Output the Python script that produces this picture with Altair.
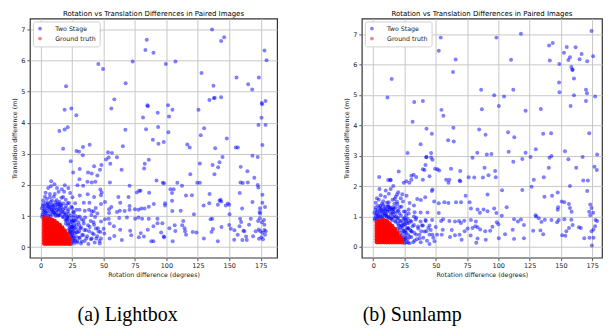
import altair as alt
import pandas as pd

TITLE = "Rotation vs Translation Differences in Paired Images"
X_TITLE = "Rotation difference (degrees)"
Y_TITLE = "Translation difference (m)"
series_names = ["Two Stage", "Ground truth"]
series_colors = ["#0000ff", "#ff0000"]
captions = ["(a) Lightbox", "(b) Sunlamp"]
x_ticks = [0, 25, 50, 75, 100, 125, 150, 175]
y_ticks = [0, 1, 2, 3, 4, 5, 6, 7]

# ---------------- Lightbox (left) ----------------
left_blue = [
    (46.4, 6.95), (84.4, 6.67), (83.3, 6.34), (89.7, 6.25), (136.3, 7.0), (145.9, 6.75), (143.5, 6.63),
    (178.0, 6.32), (179.6, 6.01), (45.9, 5.89), (49.6, 5.73), (73.2, 5.97), (99.5, 5.89), (107.2, 5.97),
    (127.9, 5.6), (155.7, 5.45), (173.5, 5.45), (165.0, 5.24), (168.2, 5.07), (137.4, 5.19), (20.2, 5.17),
    (67.6, 5.27), (58.6, 4.75), (56.2, 4.46), (84.9, 4.56), (85.2, 4.53), (81.4, 4.17), (93.1, 4.32),
    (101.3, 4.56), (104.8, 4.42), (102.1, 4.2), (125.5, 4.42), (134.2, 4.73), (137.7, 4.79), (138.4, 4.8),
    (143.5, 4.82), (176.1, 4.59), (175.8, 4.63), (178.8, 4.7), (175.6, 4.16), (173.2, 3.93), (178.8, 3.93),
    (19.1, 4.42), (24.4, 4.46), (28.4, 4.24), (14.9, 3.73), (19.1, 3.78), (21.5, 3.85), (67.4, 3.77),
    (83.8, 3.79), (93.4, 3.86), (101.6, 3.69), (130.0, 3.82), (127.3, 3.6), (148.0, 3.49),
    (17.9, 3.16), (28.5, 3.09), (30.6, 3.07), (33.7, 3.22), (39.0, 3.29), (89.2, 3.45), (93.7, 3.32),
    (97.9, 3.38), (116.6, 3.3), (118.5, 3.2), (65.4, 3.24), (53.6, 3.05), (56.7, 3.03), (138.8, 3.18),
    (155.2, 3.2), (156.8, 3.2), (176.3, 3.28),
    (33.5, 2.95), (23.9, 2.76), (54.1, 2.88), (60.7, 2.89), (52.0, 2.82), (55.4, 2.68), (48.3, 2.64),
    (42.5, 2.6), (47.2, 2.49), (31.1, 2.51), (64.4, 2.49), (82.8, 2.68), (86.0, 2.81), (82.3, 2.53),
    (126.6, 2.69), (136.7, 2.64), (142.2, 2.73), (144.6, 2.9), (141.1, 2.57), (138.2, 2.34), (119.0, 2.34),
    (159.1, 2.58), (164.4, 2.44), (168.4, 2.94), (172.6, 2.9),
    (40.6, 2.37), (45.1, 2.3), (37.7, 2.4), (25.9, 2.4), (40.6, 2.08), (37.2, 2.1), (30.9, 2.18),
    (43.5, 2.1), (29.3, 1.99), (33.8, 1.97), (19.2, 1.99), (16.9, 1.86), (8.4, 2.12), (8.2, 1.96),
    (55.1, 2.08), (70.7, 1.97), (76.5, 1.76), (79.4, 1.81), (92.1, 2.14), (97.1, 2.07), (98.1, 2.05),
    (108.7, 2.07), (112.4, 1.97), (124.5, 2.07), (126.6, 2.07), (103.2, 1.86), (105.8, 1.86), (104.5, 1.74),
    (115.6, 1.66), (120.3, 1.67), (134.3, 1.71), (143.6, 1.47), (143.0, 1.52), (149.9, 1.36), (148.8, 1.4),
    (158.9, 2.08), (160.7, 2.06), (164.7, 2.08), (172.6, 2.0), (173.1, 1.92), (169.9, 2.23), (158.3, 1.74),
    (176.3, 1.68), (176.3, 1.43), (178.4, 1.29), (168.4, 1.45), (174.4, 1.25), (174.2, 1.13), (174.4, 1.08),
    (63.3, 1.43), (70.7, 1.32), (75.0, 1.22), (77.8, 1.2), (80.0, 1.24), (82.6, 1.24), (86.0, 1.3),
    (90.0, 1.39), (98.9, 1.41), (98.9, 1.34), (104.5, 1.49), (104.7, 1.16), (111.4, 1.17), (121.9, 1.06),
    (129.6, 1.34), (134.1, 1.41), (136.4, 0.91), (140.9, 1.36), (142.2, 1.49), (147.2, 1.34), (150.2, 1.06),
    (160.2, 1.24), (61.8, 1.61), (69.9, 1.61), (78.4, 1.81), (86.3, 1.75), (56.2, 1.29), (51.2, 1.45),
    (54.4, 1.22), (54.4, 1.1), (60.7, 1.13), (63.0, 1.17), (66.8, 1.16), (70.7, 1.2), (43.8, 1.26),
    (40.6, 1.15), (48.0, 1.39), (48.0, 1.67), (48.5, 1.76), (47.5, 1.85), (37.4, 1.7), (42.5, 1.61),
    (31.1, 1.66), (25.3, 1.6), (23.5, 1.74), (18.7, 1.78), (17.9, 1.61), (14.3, 1.78), (11.3, 1.71),
    (7.4, 1.71), (3.4, 1.62), (7.4, 1.6), (12.7, 1.51), (16.6, 1.59), (21.4, 1.41), (27.4, 1.41),
    (34.3, 1.43), (38.8, 1.43), (30.9, 1.2), (35.1, 1.17), (38.5, 1.2), (42.2, 1.15), (25.9, 1.13),
    (22.2, 1.07), (25.1, 1.26),
    (62.5, 0.94), (68.6, 0.95), (54.9, 0.76), (58.3, 0.67), (63.3, 0.56), (50.1, 0.59), (47.5, 0.49),
    (50.7, 0.44), (58.6, 0.36), (54.9, 0.28), (64.6, 0.23), (71.2, 0.53), (72.0, 0.38), (75.2, 0.91),
    (77.8, 0.95), (80.7, 0.91), (86.0, 0.91), (92.9, 0.91), (92.9, 0.77), (96.8, 0.77), (89.7, 0.67),
    (85.2, 0.56), (79.6, 0.45), (78.1, 0.32), (82.1, 0.34), (88.0, 0.19), (89.7, 0.19), (95.8, 0.47),
    (97.9, 0.34), (98.2, 0.32), (102.4, 0.61), (106.6, 0.7), (107.1, 0.52), (112.6, 0.7), (113.4, 0.84),
    (114.5, 0.61), (114.8, 0.51), (115.6, 0.4), (105.0, 0.19), (120.9, 0.49), (123.9, 0.47), (129.8, 0.28),
    (135.9, 0.49), (137.0, 0.58), (135.1, 0.9), (140.9, 0.19), (143.8, 0.65), (149.9, 0.71), (151.2, 0.59),
    (154.1, 0.54), (156.7, 0.4), (153.9, 0.24), (158.6, 0.91), (159.4, 0.81), (158.1, 0.67), (162.0, 0.51),
    (161.2, 0.53), (163.4, 0.34), (160.4, 0.23), (163.9, 0.23), (165.7, 0.72), (167.1, 0.91), (172.9, 0.84),
    (174.2, 0.93), (175.9, 0.8), (177.6, 0.87), (177.9, 0.72), (173.4, 0.57), (174.7, 0.51), (176.3, 0.46),
    (177.9, 0.55), (178.4, 0.4), (175.5, 0.32), (173.6, 0.27), (176.8, 0.25), (178.9, 0.51), (171.0, 0.51),
    (168.9, 0.35),
    (43.3, 0.97), (48.0, 0.82), (51.2, 0.9), (54.1, 0.91), (45.6, 0.61), (42.5, 0.72), (39.8, 0.84),
    (37.7, 0.7), (34.8, 0.55), (38.5, 0.51), (42.2, 0.41), (40.6, 0.28), (36.4, 0.28), (33.8, 0.38),
    (31.1, 0.3), (29.3, 0.2), (32.7, 0.18), (44.3, 0.28), (46.9, 0.2), (30.6, 0.51), (28.5, 0.59),
    (32.2, 0.63), (34.3, 0.76), (30.1, 0.8), (28.5, 0.91), (31.1, 0.98), (35.4, 0.95), (25.9, 0.95),
    (26.7, 0.82), (25.3, 0.67), (25.9, 0.51), (25.3, 0.38), (27.2, 0.28), (40.4, 1.03), (45.1, 1.08),
    (23.2, 0.51),
    # dense cloud around the ground-truth blob
    (1.5, 1.05), (2.5, 1.18), (3.5, 1.3), (4.5, 1.1), (5.5, 1.25), (6.5, 1.38), (7.5, 1.15), (8.5, 1.3),
    (9.5, 1.05), (10.5, 1.22), (11.5, 1.35), (12.5, 1.12), (13.5, 1.28), (14.5, 1.02), (15.5, 1.2),
    (16.5, 1.34), (17.5, 0.98), (18.5, 1.12), (19.5, 1.25), (20.5, 0.9), (2.0, 1.38), (4.0, 1.42),
    (6.0, 1.0), (8.0, 1.45), (10.0, 1.33), (12.0, 1.0), (14.0, 1.4), (16.0, 1.1), (3.0, 1.02), (7.0, 1.28),
    (11.0, 1.1), (13.0, 1.2), (15.0, 1.32), (9.0, 1.2), (5.0, 1.35), (1.0, 1.25), (18.0, 1.4), (20.0, 1.05),
    (21.5, 1.15), (22.5, 0.95),
    (1.2, 0.98), (2.2, 1.12), (3.2, 1.22), (4.2, 1.02), (5.2, 1.16), (6.2, 1.3), (7.2, 1.06), (8.2, 1.22),
    (9.2, 1.36), (10.2, 1.12), (11.2, 1.26), (12.2, 1.06), (13.2, 1.38), (14.2, 1.18), (15.2, 1.04),
    (16.2, 1.26), (17.2, 1.14), (18.2, 0.96), (19.2, 1.06), (20.2, 1.32), (21.2, 0.98), (22.2, 1.22),
    (23.2, 0.86), (24.2, 1.02), (1.8, 1.32), (3.8, 1.12), (5.8, 1.42), (7.8, 0.98), (9.8, 1.14),
    (11.8, 1.44), (13.8, 1.02), (15.8, 1.38), (17.8, 1.22), (19.8, 0.86), (21.8, 0.76), (23.8, 0.64),
    (24.8, 0.86), (25.8, 0.62), (22.8, 0.42), (24.6, 0.34), (26.2, 0.22), (28.2, 0.48), (27.6, 0.86),
    (29.6, 0.98), (30.8, 0.7), (32.6, 0.9), (22.6, 1.42), (24.4, 1.3), (26.4, 1.12), (28.4, 1.2), (27.2, 1.02),
    (21.0, 0.85), (22.0, 0.7), (23.0, 0.6), (24.0, 0.5), (25.0, 0.42), (26.0, 0.3), (25.5, 0.18),
    (24.0, 0.1), (23.5, 0.75), (24.5, 0.65), (25.5, 0.55), (26.5, 0.7), (22.5, 0.55), (23.5, 0.45),
    (26.0, 0.85), (27.0, 0.45), (27.5, 0.2), (26.5, 0.12), (25.0, 0.8), (24.0, 0.3), (21.0, 0.95),
    (20.0, 0.75), (27.0, 0.62), (28.0, 0.35), (28.5, 0.72), (29.0, 0.15), (29.5, 0.48), (30.5, 0.3),
    (31.5, 0.6), (32.0, 0.12), (33.0, 0.4), (34.0, 0.85), (35.0, 0.2), (36.0, 0.55), (37.0, 0.35),
    (38.0, 0.1), (39.0, 0.65), (40.0, 0.25), (41.0, 0.45), (42.0, 0.8), (43.0, 0.15), (44.0, 0.6),
    (45.0, 0.35), (46.0, 0.5), (47.0, 0.12), (48.0, 0.28),
    (2.0, 1.5), (5.0, 1.55), (9.0, 1.5), (10.5, 1.62), (13.0, 1.9), (15.0, 1.45), (6.0, 1.9), (4.0, 1.75),
    (11.0, 2.02), (20.0, 1.52), (22.0, 1.9),
]

left_red = [
    (3, [0.12, 0.21, 0.30, 0.39, 0.48, 0.57, 0.66, 0.75, 0.84, 0.91]),
    (5, [0.12, 0.21, 0.30, 0.39, 0.48, 0.57, 0.66, 0.75, 0.84, 0.91]),
    (7, [0.12, 0.21, 0.30, 0.39, 0.48, 0.57, 0.66, 0.75, 0.84, 0.90]),
    (9, [0.12, 0.21, 0.30, 0.39, 0.48, 0.57, 0.66, 0.75, 0.87]),
    (11, [0.12, 0.21, 0.30, 0.39, 0.48, 0.57, 0.66, 0.75, 0.83]),
    (13, [0.12, 0.21, 0.30, 0.39, 0.48, 0.57, 0.66, 0.77]),
    (15, [0.12, 0.21, 0.30, 0.39, 0.48, 0.57, 0.66, 0.70]),
    (17, [0.12, 0.21, 0.30, 0.39, 0.48, 0.57, 0.62]),
    (19, [0.12, 0.21, 0.30, 0.39, 0.48, 0.53]),
    (21, [0.12, 0.21, 0.30, 0.39, 0.41]),
    (23, [0.12, 0.21, 0.27]),
]

# ---------------- Sunlamp (right) ----------------
right_blue = [
    (14.8, 5.53), (11.4, 4.92), (32.8, 4.77), (39.7, 4.8), (31.5, 4.12), (42.6, 3.89), (46.9, 3.72),
    (54.0, 6.89), (52.4, 6.46), (65.9, 6.17), (63.8, 5.76), (54.6, 4.51), (56.1, 4.32), (64.1, 3.92),
    (86.3, 5.17), (86.9, 4.53), (96.7, 4.99), (104.6, 4.95), (100.4, 4.64), (112.0, 5.17), (84.7, 3.86),
    (89.8, 3.69), (98.5, 6.89), (118.1, 7.02), (110.2, 6.16), (107.8, 3.77), (112.8, 3.61), (121.8, 4.48),
    (134.0, 4.54), (135.9, 3.72), (142.2, 3.74), (140.6, 6.63), (143.5, 6.71), (141.2, 6.14), (154.7, 6.58),
    (161.8, 6.57), (152.5, 6.39), (157.3, 6.24), (156.0, 6.15), (165.0, 6.18), (166.6, 6.35), (171.1, 6.11),
    (175.8, 6.28), (174.5, 7.11), (148.8, 6.02), (158.4, 5.92), (159.2, 5.84), (159.4, 5.82), (160.5, 5.54),
    (148.6, 5.41), (148.9, 5.09), (160.5, 4.99), (157.8, 4.64), (170.1, 5.17), (170.9, 5.06), (170.1, 4.8),
    (177.4, 4.95), (172.7, 3.74),
    (37.9, 3.38), (59.9, 3.51), (64.4, 3.47), (46.3, 2.94), (47.4, 2.87), (42.6, 2.96), (27.5, 3.09),
    (83.2, 3.1), (94.5, 3.06), (90.8, 3.04), (108.3, 3.13), (121.8, 3.1), (130.0, 3.21), (153.3, 3.15),
    (179.0, 3.04), (79.4, 2.93), (112.0, 2.8), (119.2, 2.89), (125.8, 2.96), (140.9, 2.93), (142.5, 2.99),
    (156.0, 2.88), (167.4, 2.96), (42.4, 2.95), (49.5, 2.57), (52.7, 2.51), (62.2, 2.57), (69.6, 2.5),
    (89.0, 2.6), (97.5, 2.5), (92.2, 2.36), (87.7, 2.28), (98.0, 2.29), (80.8, 2.28), (76.3, 2.29),
    (69.6, 2.16), (60.9, 2.21), (58.3, 2.21), (60.2, 2.11), (69.1, 2.18), (41.0, 2.53), (39.7, 2.55),
    (41.8, 2.69), (45.0, 2.32), (39.7, 2.21), (34.4, 2.3), (30.5, 2.21), (32.3, 2.37), (30.5, 2.34),
    (26.5, 2.16), (20.4, 2.48), (4.8, 2.3), (13.8, 2.21), (13.9, 2.19), (24.4, 2.11), (28.9, 2.11),
    (140.4, 2.6), (136.4, 2.29), (162.3, 2.6), (176.9, 2.64), (178.8, 2.53), (157.3, 2.0), (167.9, 2.18),
    (171.6, 2.18), (171.1, 1.84), (128.4, 2.21), (119.2, 1.87), (126.6, 1.98), (103.0, 1.86), (91.4, 1.72),
    (136.9, 1.65), (143.0, 1.68), (147.5, 1.79), (150.7, 1.49), (152.8, 1.47), (156.5, 1.41), (157.3, 1.28),
    (158.6, 1.15), (147.8, 1.3), (147.5, 1.22), (173.5, 1.39), (174.5, 1.28), (175.8, 1.12), (172.7, 1.15),
    (173.5, 1.04), (179.0, 0.85), (177.7, 0.88), (177.4, 0.68), (176.1, 0.57), (174.5, 0.51), (172.9, 0.3),
    (168.7, 0.28), (176.1, 0.3), (174.8, 0.04), (166.0, 0.62), (164.4, 0.64), (158.4, 0.89), (159.4, 0.72),
    (156.5, 0.62), (154.4, 0.51), (153.6, 0.36), (151.0, 0.38), (152.8, 0.91), (148.3, 0.88), (147.0, 0.81),
    (142.5, 0.88), (137.2, 0.89), (134.5, 0.82), (132.4, 0.94), (129.8, 1.04), (130.3, 1.0), (133.7, 0.54),
    (135.9, 0.41), (127.9, 0.53), (120.5, 0.28), (115.7, 0.83), (120.5, 0.72), (118.1, 0.9), (112.6, 0.91),
    (111.5, 0.56), (112.6, 0.26), (105.4, 0.41), (100.4, 0.28), (106.7, 1.3), (96.7, 1.26), (98.5, 1.11),
    (102.8, 1.02), (91.4, 1.17), (88.2, 1.23), (83.4, 1.23), (85.3, 1.12), (78.1, 1.26), (73.9, 1.68),
    (77.1, 1.47), (70.2, 1.47), (66.2, 1.47), (60.1, 1.44), (56.9, 1.47), (52.4, 1.43), (48.7, 1.49),
    (46.9, 1.84), (51.4, 2.55), (47.4, 1.89), (46.3, 3.09), (41.6, 1.63), (35.2, 1.57), (38.1, 1.54),
    (32.6, 1.36), (29.1, 1.44), (26.7, 1.68), (23.3, 1.73), (19.1, 1.72), (17.2, 1.57), (12.4, 1.47),
    (15.9, 1.23), (19.3, 1.41), (23.8, 1.49), (21.2, 1.31), (28.3, 1.23), (25.7, 1.15), (33.1, 1.14),
    (37.9, 1.13), (43.4, 1.13), (52.4, 1.11), (55.9, 0.91), (54.3, 0.85), (60.9, 0.85), (65.4, 0.83),
    (68.6, 0.85), (70.2, 0.78), (72.8, 0.86), (78.1, 0.88), (82.1, 0.83), (81.6, 0.68), (83.4, 0.64),
    (85.5, 0.57), (79.4, 0.62), (75.5, 0.6), (73.1, 0.51), (69.1, 0.4), (70.7, 0.23), (77.9, 0.37),
    (83.4, 0.27), (82.4, 0.13), (90.0, 0.23), (89.5, 0.51), (93.5, 0.53), (95.3, 0.66), (98.8, 0.81),
    (100.1, 0.74), (55.6, 0.56), (51.1, 0.4), (54.8, 0.4), (62.8, 0.55), (61.4, 0.32), (65.4, 0.38),
    (45.0, 0.09), (47.4, 0.4), (42.6, 0.51), (39.7, 0.7), (45.0, 0.7), (41.8, 0.88), (47.1, 0.88),
    (38.4, 0.51), (34.4, 0.4), (37.1, 0.28), (33.1, 0.21), (29.1, 0.32), (30.5, 0.51), (27.8, 0.62),
    (26.5, 0.83), (30.5, 0.83), (34.4, 0.96), (32.6, 0.72), (35.8, 0.67), (37.9, 0.83), (25.2, 0.46),
    (25.2, 0.24), (27.8, 0.14),
    # dense cloud around the ground-truth blob
    (1.5, 0.95), (2.5, 1.08), (3.5, 1.2), (4.5, 1.0), (5.5, 1.15), (6.5, 1.28), (7.5, 1.05), (8.5, 1.2),
    (9.5, 1.32), (10.5, 1.08), (11.5, 1.22), (12.5, 1.0), (13.5, 1.15), (14.5, 0.92), (15.5, 1.1),
    (16.5, 1.25), (17.5, 0.85), (18.5, 1.0), (19.5, 1.18), (2.0, 1.3), (4.0, 1.35), (6.0, 0.98), (8.0, 1.38),
    (10.0, 1.2), (12.0, 1.35), (14.0, 1.28), (16.0, 0.98), (3.0, 0.9), (7.0, 1.18), (11.0, 0.98), (13.0, 1.3),
    (15.0, 1.22), (9.0, 1.1), (5.0, 1.28), (1.0, 1.12), (18.0, 1.3), (20.0, 0.95), (21.0, 1.1), (22.0, 0.85),
    (20.5, 0.7),
    (1.2, 0.9), (2.2, 1.02), (3.2, 1.14), (4.2, 0.94), (5.2, 1.08), (6.2, 1.22), (7.2, 0.98), (8.2, 1.12),
    (9.2, 1.26), (10.2, 1.02), (11.2, 1.16), (12.2, 0.96), (13.2, 1.24), (14.2, 1.06), (15.2, 0.88),
    (16.2, 1.14), (17.2, 1.0), (18.2, 0.82), (19.2, 0.92), (20.2, 1.2), (21.2, 0.84), (22.2, 1.02),
    (23.2, 0.72), (24.2, 0.92), (1.8, 1.22), (3.8, 1.02), (5.8, 1.34), (7.8, 0.92), (9.8, 1.04),
    (11.8, 1.32), (13.8, 0.94), (15.8, 1.3), (17.8, 1.12), (19.8, 0.76), (21.8, 0.64), (23.8, 0.52),
    (24.8, 0.74), (25.8, 0.52), (22.8, 0.3), (24.6, 0.22), (26.2, 0.3), (28.2, 0.6), (27.6, 0.92),
    (29.6, 0.86), (30.8, 0.5), (32.6, 1.0), (22.6, 1.32), (24.4, 1.16), (26.4, 1.04), (28.4, 1.1), (27.2, 0.78),
    (19.5, 0.6), (21.0, 0.55), (22.0, 0.45), (23.0, 0.38), (24.0, 0.25), (25.5, 0.35), (25.0, 0.12),
    (23.5, 0.62), (24.5, 0.52), (25.5, 0.72), (26.5, 0.45), (22.5, 0.7), (26.0, 0.9), (27.0, 0.6),
    (27.5, 0.25), (26.5, 0.15), (25.0, 0.95), (24.0, 0.82), (28.0, 0.4), (28.5, 0.78), (29.0, 0.12),
    (29.5, 0.55), (30.5, 0.32), (31.5, 0.68), (32.0, 0.15), (33.0, 0.45), (34.0, 0.9), (35.0, 0.25),
    (36.0, 0.6), (37.0, 0.4), (38.0, 0.15), (39.0, 0.7), (40.0, 0.3), (41.0, 0.5), (42.0, 0.85), (43.0, 0.2),
    (44.0, 0.62), (45.0, 0.4), (46.0, 0.55), (48.0, 0.3), (50.0, 0.65), (49.0, 0.18),
    (2.0, 1.45), (4.5, 1.55), (6.0, 1.7), (8.0, 1.5), (9.5, 1.65), (11.0, 1.45), (12.5, 1.75), (14.0, 1.9),
    (15.5, 1.55), (17.0, 1.42), (19.0, 1.48), (10.0, 1.85), (7.0, 1.42), (3.0, 1.6), (16.0, 2.0), (12.0, 2.2),
    (5.0, 1.9), (18.0, 1.65), (20.0, 1.8), (22.0, 1.6),
]

right_red = [
    (3, [0.16, 0.25, 0.34, 0.43, 0.52, 0.61, 0.70, 0.81]),
    (5, [0.16, 0.25, 0.34, 0.43, 0.52, 0.61, 0.70, 0.79, 0.84]),
    (7, [0.16, 0.25, 0.34, 0.43, 0.52, 0.61, 0.70, 0.79, 0.86]),
    (9, [0.16, 0.25, 0.34, 0.43, 0.52, 0.61, 0.70, 0.79, 0.86]),
    (11, [0.16, 0.25, 0.34, 0.43, 0.52, 0.61, 0.70, 0.79, 0.83]),
    (13, [0.16, 0.25, 0.34, 0.43, 0.52, 0.61, 0.70, 0.76]),
    (15, [0.16, 0.25, 0.34, 0.43, 0.52, 0.61, 0.68]),
    (17, [0.16, 0.25, 0.34, 0.43, 0.52, 0.58]),
    (19, [0.16, 0.25, 0.34, 0.43, 0.46]),
    (21, [0.16, 0.25, 0.34]),
    (23, [0.16, 0.24]),
]

PLOT_H = 240


def panel(blue, red, xdom, ydom, width, caption, cap_x, cap_y):
    blue_df = pd.DataFrame([{"rot": x, "trans": y, "series": series_names[0]} for x, y in blue])
    red_df = pd.DataFrame([{"rot": x, "trans": y, "series": series_names[1]} for x, ys in red for y in ys])
    enc = dict(
        x=alt.X("rot:Q", title=X_TITLE,
                scale=alt.Scale(domain=xdom, nice=False, zero=False),
                axis=alt.Axis(values=x_ticks, titlePadding=2)),
        y=alt.Y("trans:Q", title=Y_TITLE,
                scale=alt.Scale(domain=ydom, nice=False, zero=False),
                axis=alt.Axis(values=y_ticks, titlePadding=3)),
        color=alt.Color("series:N",
                        scale=alt.Scale(domain=series_names, range=series_colors),
                        legend=alt.Legend(title=None, orient="top-left", offset=3, symbolOpacity=0.5)),
    )
    blue_layer = alt.Chart(blue_df).mark_circle(opacity=0.5, size=16, stroke=None).encode(**enc)
    red_layer = alt.Chart(red_df).mark_circle(opacity=0.92, size=25, stroke=None).encode(**enc)
    cap = alt.Chart(pd.DataFrame({"cap": [caption]})).mark_text(
        font="Liberation Serif", fontSize=20, align="center", baseline="alphabetic", color="black"
    ).encode(text="cap:N", x=alt.value(cap_x), y=alt.value(cap_y))
    return alt.layer(blue_layer, red_layer, cap).properties(
        width=width, height=PLOT_H,
        title=alt.TitleParams(TITLE, fontSize=7, font="DejaVu Sans", fontWeight="normal",
                              color="black", offset=2, anchor="middle", frame="group"),
    )


left = panel(left_blue, left_red, [-8.5, 188.0], [-0.34, 7.35], 248, captions[0], 98, 304)
right = panel(right_blue, right_red, [-9.1, 182.9], [-0.36, 7.52], 241, captions[1], 50.5, 304)

chart = alt.hconcat(left, right, spacing=65).resolve_legend(color="independent").resolve_scale(
    color="independent", x="independent", y="independent"
).properties(
    padding={"left": 3, "top": 0, "right": 0, "bottom": 0}
).configure_view(
    stroke="#333333", strokeWidth=1.2
).configure_axis(
    grid=True, gridColor="#c8c8c8", gridWidth=1, domain=False,
    tickColor="#333333", tickSize=3, tickWidth=0.8,
    labelFont="DejaVu Sans", labelFontSize=6.5, labelColor="#222222", labelPadding=2,
    titleFont="DejaVu Sans", titleFontSize=6.3, titleFontWeight="normal", titleColor="#222222",
).configure_legend(
    labelFont="DejaVu Sans", labelFontSize=6.3, labelColor="#222222", labelOffset=12,
    symbolType="circle", symbolSize=14, symbolOpacity=0.5, symbolStrokeWidth=0,
    padding=4, rowPadding=3, strokeColor="#d0d0d0", fillColor="white", cornerRadius=2,
)

chart.save("out.html", embed_options={"renderer": "svg", "actions": False})
